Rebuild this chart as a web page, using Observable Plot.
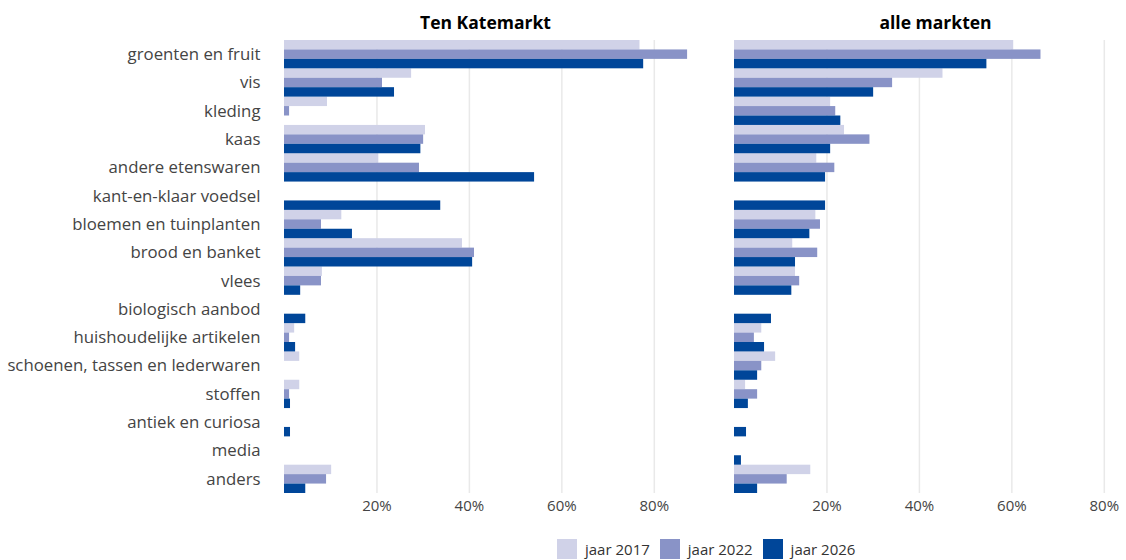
<!DOCTYPE html>
<html>
<head>
<meta charset="utf-8">
<script src="https://cdn.jsdelivr.net/npm/d3@7"></script>
<script src="https://cdn.jsdelivr.net/npm/@observablehq/plot@0.6"></script>
<style>
  html, body { margin: 0; padding: 0; background: #fff; overflow: hidden; }
  body { width: 1126px; height: 560px; font-family: "Open Sans", Lato, sans-serif; }
  #legend { display: flex; align-items: center; margin-left: 557px; margin-top: 9px; font-size: 15px; color: #333; }
  #legend .item { display: flex; align-items: center; margin-right: 10px; }
  #legend .sw { width: 20px; height: 20px; margin-right: 8px; }
</style>
</head>
<body>
<div id="chart"></div>
<div id="legend"></div>
<script>
const categories = [
  "groenten en fruit", "vis", "kleding", "kaas", "andere etenswaren",
  "kant-en-klaar voedsel", "bloemen en tuinplanten", "brood en banket", "vlees",
  "biologisch aanbod", "huishoudelijke artikelen", "schoenen, tassen en lederwaren",
  "stoffen", "antiek en curiosa", "media", "anders"
];
const markets = ["Ten Katemarkt", "alle markten"];
const years = ["jaar 2017", "jaar 2022", "jaar 2026"];
const colors = ["#d0d2e8", "#8993c7", "#004699"];
const xTicks = [0.2, 0.4, 0.6, 0.8];

// values in %, null = no bar
const tenKate2017 = [76.9, 27.5, 9.3, 30.5, 20.4, null, 12.4, 38.5, 8.2, null, 2.2, 3.3, 3.3, null, null, 10.2];
const tenKate2022 = [87.2, 21.2, 1.1, 30.1, 29.2, null, 8.0, 41.1, 8.0, null, 1.1, null, 1.1, null, null, 9.1];
const tenKate2026 = [77.7, 23.8, null, 29.5, 54.1, 33.8, 14.7, 40.7, 3.5, 4.6, 2.4, null, 1.3, 1.3, null, 4.6];
const alle2017 = [60.4, 45.1, 20.8, 23.8, 17.8, null, 17.6, 12.6, 13.2, null, 5.9, 8.9, 2.4, null, null, 16.5];
const alle2022 = [66.3, 34.2, 21.9, 29.3, 21.7, null, 18.6, 18.0, 14.1, null, 4.3, 5.9, 5.0, null, null, 11.4];
const alle2026 = [54.6, 30.1, 23.0, 20.8, 19.7, 19.7, 16.3, 13.2, 12.4, 8.0, 6.5, 5.0, 3.0, 2.6, 1.5, 5.0];

const series = [
  [markets[0], years[0], tenKate2017], [markets[0], years[1], tenKate2022], [markets[0], years[2], tenKate2026],
  [markets[1], years[0], alle2017], [markets[1], years[1], alle2022], [markets[1], years[2], alle2026]
];
const data = [];
for (const [market, year, vals] of series) {
  vals.forEach((v, i) => {
    if (v != null) data.push({market, year, category: categories[i], key: categories[i] + "|" + year, value: v / 100});
  });
}
const yDomain = categories.flatMap(c => years.map(y => c + "|" + y));

const chart = Plot.plot({
  width: 1126,
  height: 530,
  marginLeft: 284,
  marginRight: 0,
  marginTop: 40,
  marginBottom: 37,
  style: { fontFamily: "'Open Sans', Lato, sans-serif", background: "#fff" },
  fx: { domain: markets, paddingInner: 0.1289, paddingOuter: 0, round: false, label: null },
  y: { domain: yDomain, padding: 0, round: false, label: null },
  x: { domain: [0, 0.848], label: null },
  color: { domain: years, range: colors },
  marks: [
    Plot.gridX({ ticks: xTicks, stroke: "#e9e9e9", strokeOpacity: 1, strokeWidth: 1.5, y1: null, y2: null }),
    Plot.barX(data, { fx: "market", y: "key", x: "value", fill: "year" }),
    Plot.axisX({ ticks: xTicks, tickSize: 0, tickPadding: 7, tickFormat: d => Math.round(d * 100) + "%", fontSize: 15, fill: "#444", label: null }),
    Plot.axisY({ ticks: categories.map(c => c + "|" + years[1]), tickSize: 0, tickPadding: 24, tickFormat: d => d.split("|")[0], fontSize: 16.8, fill: "#444", label: null }),
    Plot.axisFx({ anchor: "top", tickSize: 0, tickPadding: 12, fontSize: 17.5, fontWeight: "bold", fill: "#000", dx: 5, label: null })
  ]
});
document.getElementById("chart").appendChild(chart);

const legend = document.getElementById("legend");
years.forEach((y, i) => {
  const item = document.createElement("div");
  item.className = "item";
  const sw = document.createElement("div");
  sw.className = "sw";
  sw.style.background = colors[i];
  const t = document.createElement("span");
  t.textContent = y;
  item.appendChild(sw);
  item.appendChild(t);
  legend.appendChild(item);
});
</script>
</body>
</html>
